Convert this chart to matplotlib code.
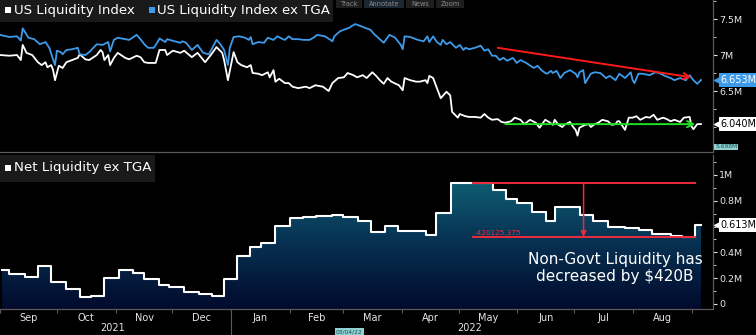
import datetime as dt
import numpy as np
import matplotlib
matplotlib.use("Agg")
import matplotlib.pyplot as plt
import matplotlib.transforms as mtransforms
from matplotlib.colors import LinearSegmentedColormap
from matplotlib.patches import Rectangle, FancyArrowPatch
from matplotlib.ticker import FixedLocator, NullFormatter

# ---------------- data (days since 2021-09-01, values in millions) ----------------
BASE = dt.date(2021, 9, 1)

ex_tga_days = [1, 6, 10, 12, 13, 16, 19, 22, 25, 27,
               30, 31, 33, 34, 36, 39, 42, 43, 46, 48,
               52, 55, 58, 59, 61, 63, 67, 69, 73, 75,
               77, 79, 82, 84, 85, 88, 89, 93, 96, 97,
               99, 102, 105, 108, 111, 113, 115, 117, 119, 121,
               122, 124, 127, 130, 132, 133, 134, 137, 140, 142,
               145, 147, 150, 151, 153, 155, 158, 161, 164, 166,
               168, 172, 175, 176, 177, 180, 183, 185, 186, 188,
               191, 193, 196, 198, 203, 206, 209, 212, 213, 214,
               217, 221, 224, 226, 227, 229, 231, 233, 234, 236,
               238, 241, 243, 245, 246, 248, 251, 254, 256, 258,
               260, 262, 264, 266, 268, 271, 273, 275, 278, 282,
               284, 286, 288, 289, 291, 292, 294, 296, 298, 301,
               304, 305, 306, 308, 309, 312, 314, 317, 320, 322,
               325, 327, 330, 333, 334, 335, 337, 339, 343, 346,
               348, 351, 354, 356, 359, 362, 364, 366, 368, 370]
ex_tga_vals = [7.28, 7.25, 7.26, 7.20, 7.37, 7.24, 7.22, 7.15, 7.18, 7.10,
               6.86, 7.06, 7.04, 7.01, 7.07, 7.08, 7.10, 7.01, 7.00, 7.04,
               7.15, 7.14, 7.18, 7.05, 7.21, 7.24, 7.22, 7.21, 7.28, 7.22,
               7.15, 7.10, 7.10, 7.18, 7.23, 7.18, 7.22, 7.19, 7.17, 7.19,
               7.17, 7.07, 7.14, 7.03, 7.01, 7.11, 7.21, 7.15, 7.07, 6.86,
               7.10, 7.25, 7.26, 7.24, 7.21, 7.25, 7.15, 7.18, 7.17, 7.24,
               7.21, 7.26, 7.22, 7.21, 7.26, 7.22, 7.22, 7.21, 7.21, 7.24,
               7.28, 7.26, 7.21, 7.19, 7.26, 7.33, 7.36, 7.38, 7.40, 7.43,
               7.40, 7.38, 7.35, 7.29, 7.17, 7.28, 7.24, 7.14, 7.08, 7.26,
               7.25, 7.21, 7.19, 7.26, 7.18, 7.26, 7.18, 7.14, 7.21, 7.15,
               7.18, 7.10, 7.14, 7.07, 7.10, 7.08, 7.10, 7.13, 7.06, 7.08,
               6.99, 6.99, 6.93, 6.96, 6.92, 6.96, 6.89, 6.93, 6.89, 6.82,
               6.85, 6.79, 6.75, 6.74, 6.78, 6.75, 6.78, 6.68, 6.75, 6.79,
               6.74, 6.69, 6.76, 6.79, 6.61, 6.74, 6.76, 6.75, 6.68, 6.71,
               6.65, 6.74, 6.68, 6.76, 6.65, 6.61, 6.74, 6.74, 6.72, 6.76,
               6.75, 6.71, 6.68, 6.65, 6.68, 6.65, 6.72, 6.65, 6.60, 6.653]

liq_days = [1, 6, 10, 12, 13, 15, 18, 21, 23, 25,
            26, 28, 29, 30, 32, 34, 36, 39, 42, 43,
            46, 48, 52, 54, 55, 56, 58, 59, 61, 63,
            67, 69, 73, 75, 77, 79, 83, 85, 88, 89,
            92, 96, 98, 102, 105, 109, 112, 115, 118, 119,
            121, 124, 126, 128, 131, 133, 134, 137, 139, 142,
            143, 145, 146, 148, 151, 153, 155, 158, 162, 164,
            167, 171, 174, 176, 179, 182, 184, 187, 189, 192,
            194, 197, 199, 201, 203, 205, 207, 211, 213, 214,
            217, 220, 222, 225, 226, 227, 229, 231, 233, 234,
            236, 238, 239, 242, 243, 246, 248, 251, 254, 256,
            258, 260, 263, 265, 267, 270, 272, 275, 277, 280,
            283, 285, 288, 290, 292, 293, 295, 297, 298, 301,
            303, 304, 305, 306, 309, 311, 312, 314, 316, 318,
            321, 323, 325, 326, 327, 329, 330, 332, 334, 336,
            338, 341, 343, 345, 347, 350, 352, 354, 356, 359,
            361, 364, 365, 366, 368, 370]
liq_vals = [7.00, 6.99, 7.00, 6.93, 7.14, 7.03, 7.00, 6.90, 6.86, 6.90,
            6.83, 6.86, 6.79, 6.65, 6.85, 6.82, 6.90, 6.93, 6.96, 7.01,
            6.94, 6.93, 7.00, 7.07, 7.04, 6.93, 7.00, 6.86, 6.96, 7.03,
            6.96, 6.94, 6.99, 6.97, 6.90, 6.89, 6.89, 7.07, 7.07, 7.00,
            7.06, 7.03, 7.06, 6.97, 7.03, 6.90, 7.00, 7.11, 7.03, 6.93,
            6.65, 7.04, 6.90, 6.86, 6.83, 6.86, 6.75, 6.74, 6.72, 6.76,
            6.69, 6.79, 6.63, 6.67, 6.61, 6.61, 6.56, 6.54, 6.56, 6.54,
            6.58, 6.56, 6.50, 6.61, 6.68, 6.69, 6.75, 6.72, 6.69, 6.72,
            6.68, 6.76, 6.71, 6.65, 6.60, 6.68, 6.63, 6.58, 6.51, 6.68,
            6.65, 6.63, 6.63, 6.65, 6.61, 6.71, 6.68, 6.54, 6.40, 6.43,
            6.49, 6.44, 6.21, 6.13, 6.18, 6.15, 6.14, 6.14, 6.13, 6.18,
            6.13, 6.10, 6.11, 6.07, 6.06, 6.08, 6.13, 6.10, 6.04, 6.10,
            6.06, 5.99, 6.10, 6.07, 6.03, 6.10, 6.03, 6.00, 6.03, 6.07,
            5.99, 5.96, 5.88, 5.99, 6.03, 6.04, 6.00, 6.04, 6.06, 6.10,
            6.08, 6.03, 6.04, 6.08, 6.08, 6.00, 5.96, 6.13, 6.13, 6.15,
            6.10, 6.14, 6.13, 6.17, 6.10, 6.13, 6.11, 6.08, 6.10, 6.07,
            6.13, 6.14, 6.01, 5.97, 6.04, 6.04]

net_days = [1, 5, 13, 20, 27, 35, 42, 48, 55, 63,
            70, 76, 84, 89, 97, 105, 112, 118, 125, 132,
            138, 145, 153, 160, 167, 175, 181, 189, 196, 203,
            210, 225, 230, 238, 260, 267, 273, 281, 288, 293,
            306, 313, 321, 330, 337, 344, 354, 360, 367]
net_vals = [0.264, 0.233, 0.212, 0.295, 0.173, 0.119, 0.057, 0.064, 0.199, 0.264,
            0.243, 0.191, 0.147, 0.129, 0.091, 0.080, 0.064, 0.196, 0.372, 0.440,
            0.475, 0.605, 0.664, 0.674, 0.682, 0.690, 0.672, 0.641, 0.560, 0.605,
            0.566, 0.535, 0.708, 0.940, 0.884, 0.811, 0.785, 0.716, 0.646, 0.750,
            0.690, 0.646, 0.599, 0.587, 0.574, 0.543, 0.530, 0.517, 0.613]
net_end_day = 370

assert len(ex_tga_days) == len(ex_tga_vals)
assert len(liq_days) == len(liq_vals)
assert len(net_days) == len(net_vals)

month_labels = ["Sep", "Oct", "Nov", "Dec", "Jan", "Feb", "Mar", "Apr", "May", "Jun", "Jul", "Aug"]
year_labels = ["2021", "2022"]
top_ticks = [6.5, 7.0, 7.5]
top_tick_labels = ["6.5M", "7M", "7.5M"]
bot_ticks = [0.0, 0.2, 0.4, 0.8, 1.0]
bot_tick_labels = ["0", "0.2M", "0.4M", "0.8M", "1M"]
toolbar_labels = ["Track", "Annotate", "News", "Zoom"]

red_arrow_days = [263, 365]
red_arrow_vals = [7.10, 6.69]
green_arrow_days = [267, 367]
green_arrow_vals = [6.04, 6.04]
drop_value = 420125.375          # in thousands -> 0.420M
bracket_days = [249.5, 367]
bracket_marker_day = 308

# ---------------- styling ----------------
W, H = 756, 335
BG = "black"
BLUE = "#3d9be9"
RED = "#ee2a3c"
GRID = "#5a5a5a"
TXT = "#e6e6e6"


def fx(px):
    return px / W


def fy(py):
    return 1 - py / H


fig = plt.figure(figsize=(W / 100, H / 100), dpi=100, facecolor=BG)
ax1 = fig.add_axes([0, fy(152), fx(713), 152 / H])
ax2 = fig.add_axes([0, fy(309), fx(713), (309 - 155) / H])

XMIN, XMAX = 1.05, 376.3

for ax in (ax1, ax2):
    ax.set_facecolor(BG)
    for s in ("top", "left"):
        ax.spines[s].set_visible(False)
    for s in ("right", "bottom"):
        ax.spines[s].set_color(GRID)
        ax.spines[s].set_linewidth(0.9)
    ax.yaxis.tick_right()
    ax.tick_params(axis="y", which="major", colors=TXT, labelsize=6.8, length=3,
                   width=0.8, pad=1.5)
    ax.tick_params(axis="y", which="minor", color=TXT, length=2, width=0.6)
    ax.set_xlim(XMIN, XMAX)

# ---------------- top panel ----------------
ax1.plot(liq_days, liq_vals, color="white", lw=1.3, zorder=3)
ax1.plot(ex_tga_days, ex_tga_vals, color=BLUE, lw=1.3, zorder=3)
ax1.set_ylim(5.653, 7.764)
ax1.set_yticks(top_ticks)
ax1.set_yticklabels(top_tick_labels)
ax1.yaxis.set_minor_locator(FixedLocator([6.0, 6.25, 6.75, 7.25, 7.75]))
ax1.tick_params(axis="x", which="both", length=0, labelbottom=False)

ax1.annotate("", xy=(red_arrow_days[1], red_arrow_vals[1]),
             xytext=(red_arrow_days[0], red_arrow_vals[0]),
             arrowprops=dict(arrowstyle="->", color="#ff1a1a", lw=1.4,
                             mutation_scale=11, shrinkA=0, shrinkB=0), zorder=5)
ax1.annotate("", xy=(green_arrow_days[1], green_arrow_vals[1]),
             xytext=(green_arrow_days[0], green_arrow_vals[0]),
             arrowprops=dict(arrowstyle="->", color="#22e022", lw=1.4,
                             mutation_scale=11, shrinkA=0, shrinkB=0), zorder=5)


def value_tag(ax, val, text, fc, tc):
    tr = mtransforms.blended_transform_factory(ax.transAxes, ax.transData)
    ax.plot([1.0075], [val], marker="<", ms=5.5, color=fc, mec=fc,
            transform=tr, clip_on=False, zorder=6)
    ax.text(1.011, val, text, transform=tr, ha="left", va="center",
            fontsize=7, color=tc, clip_on=False, zorder=7,
            bbox=dict(boxstyle="square,pad=0.18", fc=fc, ec="none"))


value_tag(ax1, ex_tga_vals[-1], f"{ex_tga_vals[-1]:.3f}M", BLUE, "white")
value_tag(ax1, liq_vals[-1], f"{liq_vals[-1]:.3f}M", "white", "black")

# ---------------- bottom panel ----------------
step_x = net_days + [net_end_day]
step_y = net_vals + [net_vals[-1]]
poly = ax2.fill_between(step_x, step_y, -1, step="post", color="none", lw=0)
cmap = LinearSegmentedColormap.from_list("liq", ["#020a2c", "#073152", "#0f6376"])
grad = np.linspace(0, 1, 256).reshape(-1, 1)
im = ax2.imshow(grad, extent=[XMIN, XMAX, -0.04, 1.0], origin="lower",
                aspect="auto", cmap=cmap, zorder=1)
im.set_clip_path(poly.get_paths()[0], transform=ax2.transData)
ax2.step(step_x, step_y, where="post", color="white", lw=1.5, zorder=3)

ax2.set_xlim(XMIN, XMAX)
ax2.set_ylim(-0.039, 1.155)
ax2.set_yticks(bot_ticks)
ax2.set_yticklabels(bot_tick_labels)
ax2.yaxis.set_minor_locator(FixedLocator([0.1, 0.3, 0.5, 0.6, 0.7, 0.9, 1.1]))

# month ticks
month_starts = []
y, m = 2021, 9
for _ in range(13):
    month_starts.append((dt.date(y, m, 1) - BASE).days)
    m += 1
    if m > 12:
        m, y = 1, y + 1
mid_months = [(a + b) / 2 for a, b in zip(month_starts[:-1], month_starts[1:])]
ax2.set_xticks(month_starts)
ax2.xaxis.set_major_formatter(NullFormatter())
ax2.set_xticks(mid_months, minor=True)
ax2.set_xticklabels(month_labels, minor=True)
ax2.tick_params(axis="x", which="major", length=3, color=GRID, width=0.8)
ax2.tick_params(axis="x", which="minor", length=0, colors=TXT, labelsize=7, pad=3)

# year separator
jan1 = (dt.date(2022, 1, 1) - BASE).days
trx = mtransforms.blended_transform_factory(ax2.transData, ax2.transAxes)
ax2.plot([jan1, jan1], [0, -0.25], transform=trx, color=GRID, lw=0.8, clip_on=False)
fig.text(fx(113), fy(328), year_labels[0], ha="center", va="center", fontsize=7, color=TXT)
fig.text(fx(470), fy(328), year_labels[1], ha="center", va="center", fontsize=7, color=TXT)

# red bracket annotation
peak = max(net_vals)
low = peak - drop_value / 1e6
ax2.plot(bracket_days, [peak, peak], color=RED, lw=1.4, zorder=5)
ax2.plot(bracket_days, [low, low], color=RED, lw=1.4, zorder=5)
arr = FancyArrowPatch((bracket_marker_day, peak), (bracket_marker_day, low),
                      arrowstyle="-|>", mutation_scale=8, lw=1.1, ec=RED,
                      fc="none", shrinkA=0, shrinkB=0, zorder=5)
ax2.add_patch(arr)
ax2.text(bracket_days[0] + 0.8, low + 0.008, f"-{drop_value:.3f}", color=RED,
         fontsize=5.2, ha="left", va="bottom", zorder=5)

value_tag(ax2, net_vals[-1], f"{net_vals[-1]:.3f}M", "white", "black")

fig.text(fx(615), fy(268), "Non-Govt Liquidity has\ndecreased by \\$420B",
         ha="center", va="center", multialignment="center", fontsize=11,
         color="white", linespacing=1.1)

# ---------------- legends / chrome ----------------
# toolbar strip at the very top (right of the legend box)
toolbar_x = [(336, 362, "#1e1e1e"), (364, 404, "#1b2633"),
             (406, 434, "#1e1e1e"), (436, 464, "#1e1e1e")]
for (x0, x1, fc), label in zip(toolbar_x, toolbar_labels):
    fig.add_artist(Rectangle((fx(x0), fy(8)), fx(x1 - x0), 8 / H, transform=fig.transFigure,
                             fc=fc, ec="none", zorder=2))
    fig.text(fx(x0 + 5), fy(4.2), label, fontsize=4.8, color="#8a8a8a", ha="left",
             va="center", zorder=3)

fig.add_artist(Rectangle((0, fy(22)), fx(333), 22 / H, transform=fig.transFigure,
                         fc="#1a1a1a", ec="none", zorder=4))
fig.add_artist(Rectangle((fx(5), fy(13)), fx(6), 6 / H, transform=fig.transFigure,
                         fc="white", ec="none", zorder=5))
fig.text(fx(14), fy(10.5), "US Liquidity Index", fontsize=9.6, color="white",
         ha="left", va="center", zorder=5)
fig.add_artist(Rectangle((fx(149), fy(13)), fx(6), 6 / H, transform=fig.transFigure,
                         fc=BLUE, ec="none", zorder=5))
fig.text(fx(157), fy(10.5), "US Liquidity Index ex TGA", fontsize=9.6, color="white",
         ha="left", va="center", zorder=5)

fig.add_artist(Rectangle((0, fy(182)), fx(155), (182 - 155) / H, transform=fig.transFigure,
                         fc="#1a1a1a", ec="none", zorder=4))
fig.add_artist(Rectangle((fx(5), fy(171)), fx(6), 6 / H, transform=fig.transFigure,
                         fc="white", ec="none", zorder=5))
fig.text(fx(14), fy(168), "Net Liquidity ex TGA", fontsize=9.6, color="white",
         ha="left", va="center", zorder=5)

# small info boxes
fig.text(fx(715), fy(147), "5.698M", fontsize=4.3, color="#1d4d5d", ha="left", va="center",
         zorder=6, bbox=dict(boxstyle="square,pad=0.15", fc="#8fd0d0", ec="none"))
fig.text(fx(336), fy(331.5), "03/04/22", fontsize=4.3, color="#1d4d5d", ha="left", va="center",
         zorder=6, bbox=dict(boxstyle="square,pad=0.15", fc="#8fd0d0", ec="none"))

fig.savefig("out.png", dpi=100, facecolor=BG)
